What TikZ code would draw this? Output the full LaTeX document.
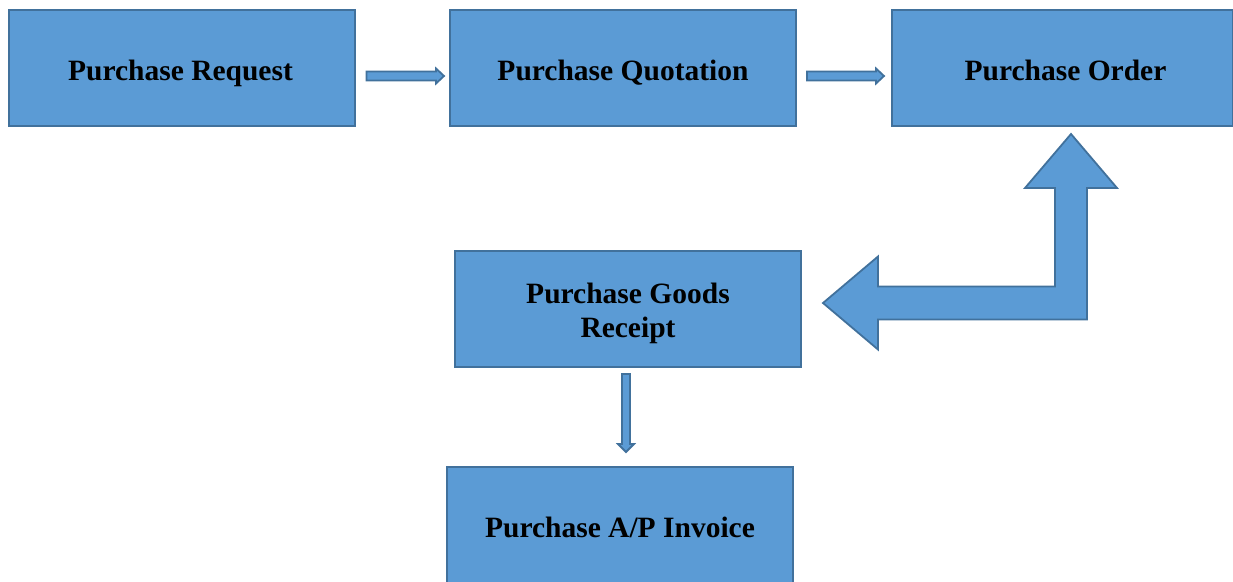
\documentclass[tikz,border=0pt]{standalone}
\usepackage{fontspec}
\setmainfont{Liberation Serif}
\usetikzlibrary{calc}
\definecolor{boxfill}{HTML}{5B9BD5}
\definecolor{boxline}{HTML}{41719C}
\tikzset{
  procbox/.style={draw=boxline, fill=boxfill, line width=2pt, minimum width=346pt, minimum height=116pt,
    inner sep=0pt},
  boxtext/.style={inner sep=0pt, align=center, font=\bfseries\fontsize{29.5}{34}\selectfont, text=black, anchor=base},
  blockarrow/.style={draw=boxline, fill=boxfill, line width=1.8pt, line join=miter}
}
\newcommand{\hblockarrow}[2]{\draw[blockarrow] let \p1=(#1), \p2=(#2) in
  (\x1,{\y1+4.5pt}) -- ({\x2-8pt},{\y1+4.5pt}) -- ({\x2-8pt},{\y1+7.5pt}) -- (\x2,\y1) --
  ({\x2-8pt},{\y1-7.5pt}) -- ({\x2-8pt},{\y1-4.5pt}) -- (\x1,{\y1-4.5pt}) -- cycle;}
\newcommand{\vblockarrow}[2]{\draw[blockarrow] let \p1=(#1), \p2=(#2) in
  ({\x1-4pt},\y1) -- ({\x1-4pt},{\y2+8pt}) -- ({\x1-8pt},{\y2+8pt}) -- (\x1,\y2) --
  ({\x1+8pt},{\y2+8pt}) -- ({\x1+4pt},{\y2+8pt}) -- ({\x1+4pt},\y1) -- cycle;}
\begin{document}
\begin{tikzpicture}[x=1pt,y=-1pt]
\useasboundingbox (0,0) rectangle (1233,581);
\clip (0,0) rectangle (1233,581);
\node[procbox] (req) at (181.5,68) {};
\node[procbox] (quo) at (623,68) {};
\node[procbox, minimum width=341pt] (ord) at (1062.5,68) {};
\node[procbox] (rec) at (628,309) {};
\node[procbox] (inv) at (620,525) {};
\node[boxtext] (reqt) at ($(req.center)+(-1,12)$) {Purchase Request};
\node[boxtext] (quot) at ($(quo.center)+(0,12)$) {Purchase Quotation};
\node[boxtext] (ordt) at ($(ord.center)+(3,12)$) {Purchase Order};
\node[boxtext] (rect) at ($(rec.center)+(0,28)$) {Purchase Goods\\Receipt};
\node[boxtext] (invt) at ($(inv.center)+(0,12)$) {Purchase A/P Invoice};
% small block arrows
\coordinate (a1s) at ($(req.east)+(11,8)$);
\coordinate (a1e) at ($(quo.west)+(-5,8)$);
\hblockarrow{a1s}{a1e}
\coordinate (a2s) at ($(quo.east)+(10,8)$);
\coordinate (a2e) at ($(ord.west)+(-7,8)$);
\hblockarrow{a2s}{a2e}
\coordinate (a3s) at ($(rec.south)+(-2,6)$);
\coordinate (a3e) at ($(inv.north)+(6,-14)$);
\vblockarrow{a3s}{a3e}
% big bent arrow from order to goods receipt
\coordinate (ut) at ($(ord.south west)+(180,7)$);
\coordinate (lt) at ($(rec.east)+(21,-6)$);
\draw[blockarrow] let \p1=(lt), \p2=(ut) in
  (\p1) -- ({\x1+55pt},{\y1+46.5pt}) -- ({\x1+55pt},{\y1+16.5pt}) -- ({\x2-16pt},{\y1+16.5pt}) --
  ({\x2-16pt},{\y2-54pt}) -- ({\x2-46pt},{\y2-54pt}) -- (\p2) -- ({\x2+46pt},{\y2-54pt}) --
  ({\x2+16pt},{\y2-54pt}) -- ({\x2+16pt},{\y1-16.5pt}) -- ({\x1+55pt},{\y1-16.5pt}) --
  ({\x1+55pt},{\y1-46.5pt}) -- cycle;
\end{tikzpicture}
\end{document}
